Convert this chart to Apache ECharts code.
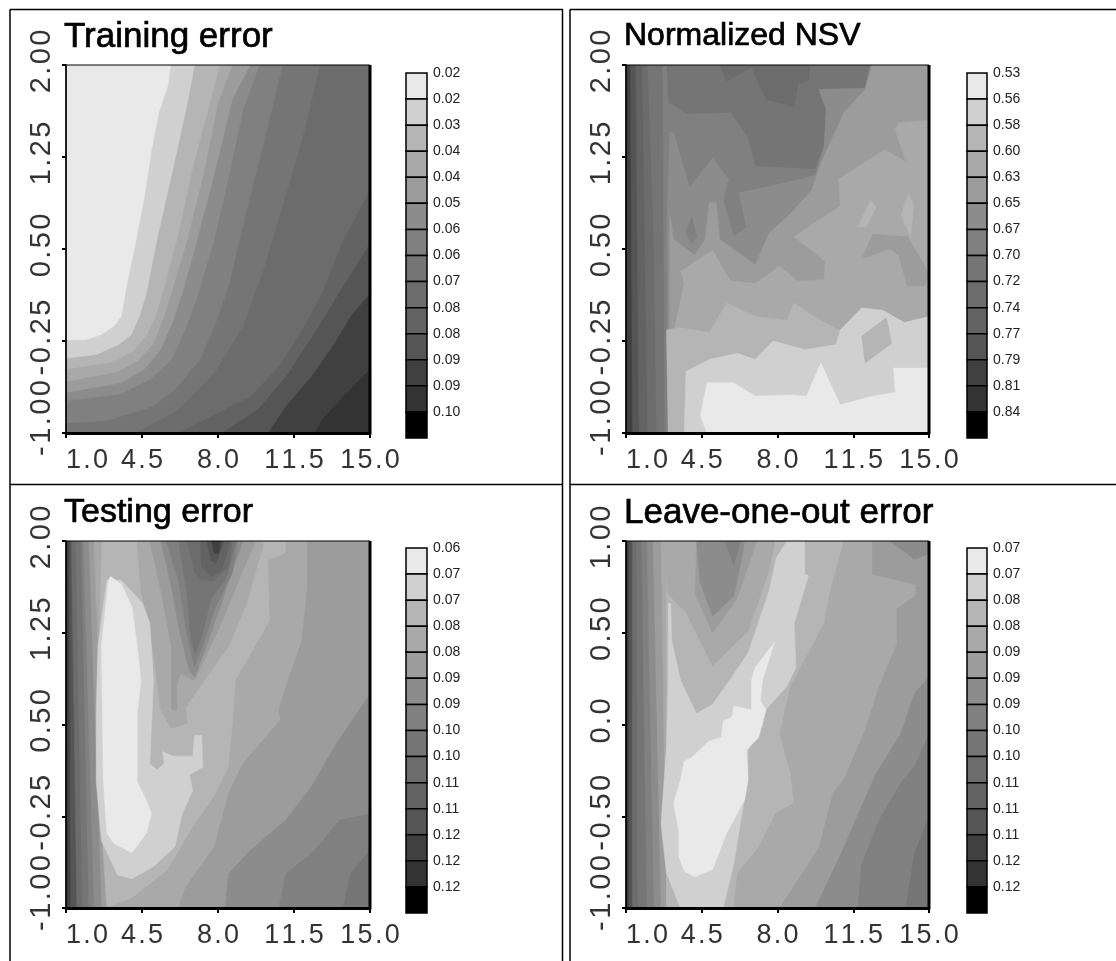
<!DOCTYPE html>
<html>
<head>
<meta charset="utf-8">
<style>html,body{margin:0;padding:0;background:#fff}#c{width:1116px;height:961px}</style>
<script src="https://cdn.jsdelivr.net/npm/echarts@6/dist/echarts.min.js"></script>
</head>
<body>
<div id="c"></div>
<script>
var titles = ['Training error','Normalized NSV','Testing error','Leave-one-out error'];
var xTicks = [1,4.5,8,11.5,15];
var xTickLabels = ['1.0','4.5','8.0','11.5','15.0'];
var yTicksWide = [-1,-0.25,0.5,1.25,2];
var yLabelsWide = ['-1.00','-0.25','0.50','1.25','2.00'];
var yTicksNarrow = [-1,-0.5,0,0.5,1];
var yLabelsNarrow = ['-1.00','-0.50','0.0','0.50','1.00'];
var trainingScale = ['0.02','0.02','0.03','0.04','0.04','0.05','0.06','0.06','0.07','0.08','0.08','0.09','0.09','0.10'];
var nsvScale = ['0.53','0.56','0.58','0.60','0.63','0.65','0.67','0.70','0.72','0.74','0.77','0.79','0.81','0.84'];
var testingScale = ['0.06','0.07','0.07','0.08','0.08','0.09','0.09','0.10','0.10','0.11','0.11','0.12','0.12','0.12'];
var looScale = ['0.07','0.07','0.08','0.08','0.09','0.09','0.09','0.10','0.10','0.11','0.11','0.11','0.12','0.12'];
var greys = ['#e9e9e9','#d0d0d0','#b5b5b5','#a9a9a9','#9c9c9c','#8c8c8c','#808080','#757575','#6c6c6c','#636363','#555555','#404040','#333333','#000000'];

// Each band: [scale step, contour outline in axis units]; later bands paint over earlier ones.
var trainingBands = [
[12,[[1,2],[15,2],[15,-1],[1,-1]]],
[11,[[15,-0.48],[13.77,-0.7],[12.78,-0.89],[12.45,-1],[1,-1],[1,2],[15,2]]],
[10,[[15,0.14],[14.1,-0.05],[13.28,-0.29],[12.29,-0.54],[11.13,-0.78],[10.3,-1],[1,-1],[1,2],[15,2]]],
[9,[[15,0.55],[13.77,0.2],[12.45,-0.18],[11.13,-0.54],[9.81,-0.81],[8.16,-1],[1,-1],[1,2],[15,2]]],
[8,[[15,0.98],[14.1,0.68],[13.77,0.58],[12.78,0.14],[11.96,-0.13],[10.8,-0.46],[9.48,-0.7],[6.18,-1],[1,-1],[1,2],[15,2]]],
[7,[[12.7,2],[11.96,1.45],[10.97,0.85],[10.14,0.36],[9.15,-0.13],[7.83,-0.51],[6.18,-0.81],[4.2,-1],[1,-1],[1,2]]],
[6,[[10.97,2],[10.22,1.45],[9.32,0.82],[8.49,0.2],[7.9,-0.1],[7.17,-0.4],[6.1,-0.63],[5.03,-0.78],[2.88,-0.9],[1,-0.92],[1,2]]],
[5,[[9.9,2],[9.15,1.64],[8.49,1.09],[7.83,0.58],[7,0.09],[6.5,-0.15],[5.85,-0.4],[4.9,-0.56],[3.54,-0.68],[1,-0.74],[1,2]]],
[4,[[9.48,2],[8.66,1.72],[7.83,1.12],[7,0.55],[6.35,0.14],[5.9,-0.1],[5.36,-0.32],[4.6,-0.48],[3.54,-0.59],[1,-0.67],[1,2]]],
[3,[[8.66,2],[8,1.69],[7.34,1.12],[6.59,0.58],[5.85,0.14],[5.45,-0.08],[5.03,-0.27],[4.3,-0.41],[3.38,-0.5],[1,-0.58],[1,2]]],
[2,[[8.08,2],[7.67,1.72],[6.84,1.17],[6.18,0.63],[5.44,0.14],[5.1,-0.06],[4.7,-0.21],[4.1,-0.33],[3.21,-0.42],[1,-0.48],[1,2]]],
[1,[[6.92,2],[6.59,1.69],[6.02,1.23],[5.19,0.58],[4.7,0.14],[4.4,-0.04],[4,-0.2],[3.4,-0.28],[2.4,-0.36],[1,-0.39],[1,2]]],
[0,[[5.82,2],[5.69,1.83],[5.27,1.61],[4.94,1.31],[4.61,0.93],[4.2,0.55],[3.79,0.2],[3.54,-0.05],[3.2,-0.13],[2.6,-0.2],[1.9,-0.24],[1,-0.24],[1,2]]]
];
var nsvBands = [
[11,[[1,2],[15,2],[15,-1],[1,-1]]],
[10,[[1.2,2],[15,2],[15,-1],[1.3,-1]]],
[9,[[1.45,2],[15,2],[15,-1],[1.6,-1]]],
[8,[[1.75,2],[15,2],[15,-1],[2,-1]]],
[7,[[2,2],[15,2],[15,-1],[2.4,-1],[2.3,0.5]]],
[6,[[12.3,2],[15,2],[15,-1],[2.8,-1],[2.75,0.5],[2.7,2],[2.87,2],[2.95,1.69],[3.85,1.6],[5.82,1.61],[6.64,1.4],[6.97,1.17],[7.62,1.17],[9.75,1.15],[10.16,1.34],[10.25,1.64],[9.92,1.8],[12.05,1.81]]],
[8,[[5.33,2],[5.66,1.87],[6.8,1.98],[7.46,1.72],[8.78,1.66],[8.95,1.85],[9.43,1.87],[9.5,2]]],
[5,[[12.3,2],[15,2],[15,-1],[2.95,-1],[2.9,0.77],[3.03,1.45],[3.2,1.45],[3.93,1],[5,1.24],[5.74,1.07],[5.49,0.9],[5.98,0.6],[6.56,0.68],[6.23,0.96],[7.62,1.01],[9.75,1.1],[10.16,1.34],[10.25,1.64],[9.92,1.8],[12.05,1.81]]],
[4,[[12.38,2],[15,2],[15,-1],[3,-1],[3.03,0.77],[3.2,0.58],[4.18,0.45],[4.67,0.58],[4.84,0.88],[5.16,0.88],[5.33,0.58],[6.97,0.37],[7.62,0.63],[8.61,0.79],[9.59,0.98],[10,1.2],[11.07,1.61],[12.05,1.8]]],
[6,[[3.77,0.63],[4.03,0.77],[4.26,0.6],[4.03,0.54]]],
[3,[[15,1.55],[15,-1],[3,-1],[3.2,-0.18],[3.69,0.22],[3.52,0.32],[5,0.49],[5.82,0.24],[6.97,0.22],[8.1,0.36],[8.93,0.24],[10.16,0.25],[10.2,0.4],[8.77,0.6],[9.6,0.7],[10.9,0.85],[10.82,1.07],[12.95,1.31],[13.93,1.21],[13.44,1.47],[13.6,1.53]]],
[4,[[11.9,0.42],[12.4,0.62],[14,0.6],[15,0.3],[15,0.3],[14.8,0.2],[14,0.2],[13.6,0.45],[13.2,0.5]]],
[2,[[11.7,0.68],[12.3,0.9],[12.55,0.84],[12.1,0.68]]],
[2,[[13.7,0.78],[14.05,0.95],[14.3,0.85],[14.15,0.6]]],
[2,[[15,-0.05],[15,-1],[2.95,-1],[2.87,-0.16],[3.44,-0.14],[4.84,-0.18],[5.66,0.06],[6.97,-0.05],[8.44,-0.08],[8.77,0.06],[9.92,-0.08],[10.9,-0.16],[11.89,0.02],[12.87,0],[13.85,-0.1]]],
[1,[[15,-0.05],[15,-1],[3.69,-1],[3.77,-0.5],[4.84,-0.4],[6.15,-0.35],[6.97,-0.4],[7.79,-0.25],[9.26,-0.32],[10.7,-0.28],[10.9,-0.16],[11.89,0.02],[12.87,0],[13.85,-0.1]]],
[2,[[11.89,-0.21],[13.03,-0.06],[13.28,-0.27],[12.05,-0.43]]],
[0,[[15,-0.47],[15,-1],[4.75,-1],[4.43,-0.86],[4.75,-0.59],[5.98,-0.59],[6.97,-0.7],[8.61,-0.69],[9.34,-0.7],[10,-0.43],[10.9,-0.77],[12.38,-0.7],[13.44,-0.67],[13.36,-0.47]]]
];
var testingBands = [
[11,[[1,2],[15,2],[15,-1],[1,-1]]],
[10,[[1.15,2],[15,2],[15,-1],[1.2,-1]]],
[8,[[1.25,2],[15,2],[15,-1],[1.5,-1]]],
[7,[[1.45,2],[15,2],[15,-1],[1.75,-1]]],
[6,[[1.7,2],[15,2],[15,-1],[2.05,-1]]],
[5,[[1.8,2],[15,2],[15,-1],[2.3,-1]]],
[4,[[2.05,2],[15,2],[15,-1],[2.65,-1]]],
[3,[[2.3,2],[15,2],[15,-1],[2.9,-1]]],
[2,[[2.65,2],[15,2],[15,-1],[2.88,-1],[2.7,-0.5],[2.45,0.59]]],
[3,[[11.13,2],[15,2],[15,-1],[2.88,-1],[4.04,-0.92],[5.69,-0.69],[6.84,-0.34],[7.83,-0.09],[8.49,0.15],[8.66,0.45],[8.82,0.86],[10.39,1.35],[10.31,1.84],[11.13,1.9]]],
[4,[[12.12,2],[15,2],[15,-1],[6.18,-1],[6.51,-0.83],[7.83,-0.5],[8.49,-0.06],[9.15,0.18],[10.88,0.54],[10.8,0.62],[11.13,0.81],[11.87,1.19],[12.12,1.63]]],
[5,[[15,0.75],[15,-1],[8.33,-1],[8.49,-0.72],[9.48,-0.53],[11.13,-0.28],[12.29,-0.01],[13.44,0.34]]],
[6,[[15,-0.23],[15,-1],[10.8,-1],[11.13,-0.72],[12.45,-0.53],[13.6,-0.28]]],
[7,[[15,-0.53],[15,-1],[13.77,-1],[14.1,-0.72]]],
[3,[[4.28,2],[4.45,1.6],[5.03,1.08],[5.36,0.62],[5.85,0.47],[6.59,0.51],[6.51,0.64],[7.17,0.81],[8.49,1.14],[9.32,1.49],[10.06,1.95],[10.06,2]]],
[4,[[4.86,2],[5.36,1.6],[5.85,1.14],[5.85,0.62],[6.1,0.62],[6.1,0.81],[6.26,0.92],[6.92,0.86],[8.16,1.33],[9.15,1.76],[9.73,2]]],
[5,[[5.36,2],[5.85,1.63],[6.26,1.24],[6.68,0.94],[6.92,0.89],[7.34,1.08],[8,1.41],[8.82,1.84],[9.15,2]]],
[6,[[5.6,2],[6.18,1.68],[6.59,1.22],[6.92,0.97],[7.34,1.16],[7.83,1.44],[8.66,1.74],[8.9,2]]],
[7,[[6.18,2],[6.59,1.54],[6.76,1.19],[6.97,1.08],[7.25,1.22],[7.67,1.52],[8.41,1.71],[8.82,2]]],
[8,[[6.59,2],[6.92,1.74],[7.17,1.68],[7.83,1.68],[8.49,1.79],[8.66,2]]],
[9,[[7.17,2],[7.25,1.79],[7.67,1.71],[8.16,1.76],[8.49,1.95],[8.49,2]]],
[10,[[7.5,2],[7.67,1.84],[7.91,1.82],[8.24,1.98],[8.24,2]]],
[11,[[7.7,2],[7.83,1.9],[8.03,1.9],[8.13,2]]],
[1,[[2.88,1.68],[3.54,1.68],[4.53,1.49],[4.86,1.33],[5.03,0.86],[4.86,0.18],[5.19,0.13],[5.52,0.18],[5.44,0.28],[5.93,0.24],[6.84,0.24],[6.92,0.41],[7.25,0.41],[7.3,0.15],[6.68,0.09],[6.84,-0.04],[6.35,-0.23],[6.02,-0.5],[5.03,-0.66],[4.04,-0.76],[3.38,-0.73],[2.63,-0.45],[2.39,0.04],[2.39,0.59],[2.47,1.14]]],
[0,[[3.05,1.71],[3.54,1.65],[4.04,1.46],[4.28,1.14],[4.45,0.86],[4.28,0.59],[4.28,0.03],[4.7,-0.12],[4.94,-0.23],[4.7,-0.39],[4.04,-0.55],[3.21,-0.47],[2.88,-0.39],[2.72,0.04],[2.63,1.14],[2.96,1.68]]]
];
var looBands = [
[11,[[1,1],[15,1],[15,-1],[1,-1]]],
[10,[[1.15,1],[15,1],[15,-1],[1.15,-1]]],
[8,[[1.3,1],[15,1],[15,-1],[1.3,-1]]],
[7,[[1.48,1],[15,1],[15,-1],[1.55,-1]]],
[6,[[1.72,1],[15,1],[15,-1],[1.97,-1]]],
[5,[[1.97,1],[15,1],[15,-1],[2.3,-1]]],
[4,[[2.25,1],[15,1],[15,-1],[2.62,-1]]],
[3,[[2.62,1],[15,1],[15,-1],[2.87,-1]]],
[2,[[2.87,1],[15,1],[15,-1],[2.87,-1]]],
[3,[[11.07,1],[15,1],[15,-1],[5.98,-1],[6.15,-0.81],[7.13,-0.67],[7.95,-0.48],[8.77,-0.43],[8.61,-0.27],[8.11,-0.05],[8.61,0.21],[10.16,0.55],[10.41,0.71]]],
[4,[[12.38,1],[15,1],[15,-1],[8.11,-1],[9.92,-0.67],[10.57,-0.37],[11.07,-0.3],[12.05,-0.03],[12.7,0.21],[13.52,0.44],[13.52,0.63],[14.34,0.7],[14.43,0.76],[12.38,0.82]]],
[5,[[15,0.26],[15,-1],[9.75,-1],[11.07,-0.67],[11.72,-0.49],[12.54,-0.27],[13.69,-0.05],[14.34,0.17]]],
[5,[[13.2,1],[14.34,0.9],[15,0.93],[15,1]]],
[6,[[15,-0.05],[15,-1],[11.72,-1],[11.89,-0.76],[12.7,-0.52],[13.69,-0.32],[14.34,-0.23]]],
[7,[[15,-0.5],[15,-1],[13.93,-1],[14.34,-0.7]]],
[3,[[2.7,1],[2.95,0.71],[3.77,0.61],[5,0.32],[6.64,0.51],[7.62,0.84],[7.87,1]]],
[4,[[4.26,1],[4.2,0.71],[5,0.5],[6.1,0.68],[7.05,1]]],
[5,[[4.26,1],[4.43,0.77],[5,0.59],[5.98,0.7],[6.39,0.93],[6.48,1]]],
[6,[[5.57,1],[5.98,0.87],[6.31,1]]],
[1,[[8.44,1],[9.26,1],[9.26,0.82],[9.43,0.81],[8.77,0.55],[8.85,0.31],[8.44,0.21],[7.46,0.08],[7.3,-0.01],[6.64,-0.14],[6.64,-0.3],[6.31,-0.52],[5.98,-0.76],[5.49,-1],[3.52,-1],[2.87,-0.81],[2.62,-0.54],[2.87,-0.12],[2.95,0.24],[2.95,0.66],[3.07,0.66],[3.11,0.46],[3.52,0.24],[4.26,0.06],[5,0.11],[5.66,0.22],[6.64,0.39],[7.62,0.73],[7.95,0.91]]],
[0,[[7.87,0.45],[6.97,0.31],[6.8,0.24],[6.8,0.08],[5.98,0.1],[5.9,0.04],[5.49,0.02],[5.41,-0.07],[4.84,-0.09],[4.02,-0.18],[3.69,-0.2],[3.52,-0.3],[3.2,-0.43],[3.44,-0.58],[3.44,-0.72],[3.69,-0.8],[4.18,-0.83],[5,-0.79],[5.66,-0.59],[6.48,-0.41],[6.64,-0.3],[6.56,-0.14],[7.13,-0.07],[7.46,0.08],[7.21,0.13],[7.3,0.24]]]
];

var panels = [
 {bands:trainingBands, scale:trainingScale, left:66,  top:65,  right:370, bottom:433, barLeft:406, barTop:73,  yTicks:yTicksWide,   yLabels:yLabelsWide,   yMax:2, titleSize:35},
 {bands:nsvBands,      scale:nsvScale,      left:626, top:65,  right:929, bottom:433, barLeft:967, barTop:73,  yTicks:yTicksWide,   yLabels:yLabelsWide,   yMax:2, titleSize:32},
 {bands:testingBands,  scale:testingScale,  left:66,  top:541, right:370, bottom:908, barLeft:406, barTop:548, yTicks:yTicksWide,   yLabels:yLabelsWide,   yMax:2, titleSize:34},
 {bands:looBands,      scale:looScale,      left:626, top:541, right:929, bottom:908, barLeft:967, barTop:548, yTicks:yTicksNarrow, yLabels:yLabelsNarrow, yMax:1, titleSize:35}
];
var font = '"Liberation Sans", Arial, sans-serif';
var option = {animation:false, backgroundColor:'#fff', title:[], grid:[], xAxis:[], yAxis:[], series:[], graphic:[]};

function lineEl(x1,y1,x2,y2,w){
  return {type:'line', silent:true, z:100, shape:{x1:x1,y1:y1,x2:x2,y2:y2}, style:{stroke:'#000',lineWidth:w||1.5}};
}
function airy(s){ return s.split('').join('\u200A'); }
option.graphic = [
 lineEl(10,9.5,563,9.5), lineEl(10,9.5,10,961), lineEl(10,484.5,563,484.5),
 lineEl(562.5,9.5,562.5,961), lineEl(570,9.5,570,961), lineEl(570,9.5,1116,9.5), lineEl(570,484.5,1116,484.5)
];

panels.forEach(function(p,i){
  var bands = p.bands, g = i*2;
  option.graphic.push(lineEl(p.right,p.top,p.right,p.bottom,3));
  option.title.push({text:titles[i], left:p.left-2, top:p.top-45, padding:0,
    textStyle:{fontFamily:font,fontSize:p.titleSize,fontWeight:'normal',color:'#000',textBorderColor:'#000',textBorderWidth:0.7}});
  option.grid.push({left:p.left, top:p.top, width:p.right-p.left, height:p.bottom-p.top, show:true, borderColor:'#000', borderWidth:1, backgroundColor:'transparent', z:5});
  option.xAxis.push({type:'value', gridIndex:g, min:1, max:15, splitLine:{show:false}, z:10,
    axisLine:{show:true,onZero:false,lineStyle:{color:'#000',width:3}},
    axisTick:{show:true,length:5,customValues:xTicks,lineStyle:{color:'#000',width:2}},
    axisLabel:{customValues:xTicks, margin:14, fontFamily:font, fontSize:27, color:'#333', alignMinLabel:'left',
      formatter:function(v){return airy(xTickLabels[xTicks.indexOf(v)]);}}});
  option.yAxis.push({type:'value', gridIndex:g, min:-1, max:p.yMax, splitLine:{show:false}, z:10,
    axisLine:{show:true,onZero:false,lineStyle:{color:'#000',width:1.5}},
    axisTick:{show:true,length:4,customValues:p.yTicks,lineStyle:{color:'#000',width:2}},
    axisLabel:{customValues:p.yTicks, rotate:90, margin:10, fontFamily:font, fontSize:29, color:'#333',
      formatter:function(v){var s=airy(p.yLabels[p.yTicks.indexOf(v)]); return v===-1 ? '{low|'+s+'}' : '{mid|'+s+'}';},
      rich:{low:{fontFamily:font,fontSize:29,color:'#333',padding:[0,0,0,30]},
            mid:{fontFamily:font,fontSize:29,color:'#333',padding:[0,0,0,7]}}}});
  option.series.push({type:'custom', xAxisIndex:g, yAxisIndex:g, silent:true, clip:true, z:2,
    data:bands.map(function(b){return [b[1][0][0], b[1][0][1]];}),
    encode:{x:0,y:1},
    renderItem:function(params,api){
      var b = bands[params.dataIndex];
      return {type:'polygon', shape:{points:b[1].map(function(pt){return api.coord(pt);})},
              style:{fill:greys[b[0]], stroke:greys[b[0]], lineWidth:0.5}};
    }});
  // grey scale bar
  option.grid.push({left:p.barLeft, top:p.barTop, width:p.barLeft===406?21:20, height:365, show:false});
  option.xAxis.push({type:'value', gridIndex:g+1, min:0, max:1, show:false});
  option.yAxis.push({type:'value', gridIndex:g+1, min:0, max:14, inverse:true, position:'right',
    splitLine:{show:false}, axisLine:{show:false}, axisTick:{show:false},
    axisLabel:{customValues:p.scale.map(function(_,k){return k;}), margin:6, fontFamily:font, fontSize:14, color:'#222',
      formatter:function(v){return p.scale[v];}}});
  option.series.push({type:'custom', xAxisIndex:g+1, yAxisIndex:g+1, silent:true, clip:false,
    data:p.scale.map(function(_,k){return [0,k];}), encode:{x:0,y:1},
    renderItem:function(params,api){
      var k = params.dataIndex, a = api.coord([0,k]), b = api.coord([1,k+1]);
      return {type:'rect', shape:{x:a[0],y:a[1],width:b[0]-a[0],height:b[1]-a[1]},
              style:{fill:greys[k], stroke:'#000', lineWidth:1.5}};
    }});
});
var chart = echarts.init(document.getElementById('c'), null, {renderer:'canvas'});
chart.setOption(option);
</script>
</body>
</html>
